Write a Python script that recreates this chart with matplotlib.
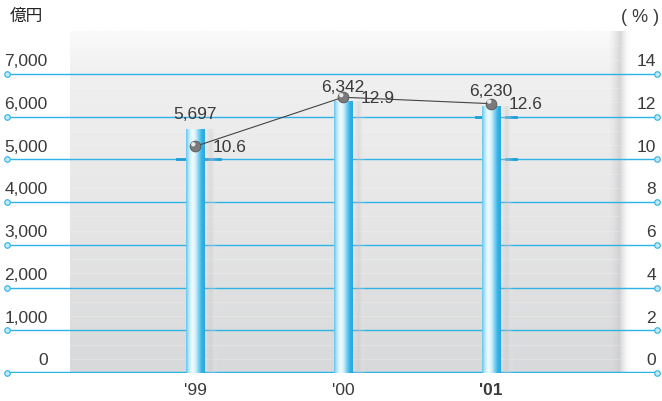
import numpy as np
import matplotlib
matplotlib.use('Agg')
import matplotlib.pyplot as plt
from matplotlib.colors import LinearSegmentedColormap

plt.rcParams['font.family'] = ['Liberation Sans', 'Noto Sans CJK JP', 'DejaVu Sans']

# sales (100M yen) and ratio (%)
years = ["'99", "'00", "'01"]
sales = [5697, 6342, 6230]
ratio = [10.6, 12.9, 12.6]
left_ticks = [0, 1000, 2000, 3000, 4000, 5000, 6000, 7000]
right_ticks = [0, 2, 4, 6, 8, 10, 12, 14]

grid_c = '#2db3e6'
txt_c = '#3a3a3a'

fig = plt.figure(figsize=(6.62, 4.01), dpi=100)
ax = fig.add_axes([5 / 662, 28 / 401, 654 / 662, 342 / 401])
ax.set_xlim(-1.284, 3.135)
ax.set_ylim(0, 8000)
ax.axis('off')
ax2 = ax.twinx()
ax2.set_ylim(0, 16)
ax2.axis('off')

xs = np.arange(len(years))

# gray panel with vertical gradient, fading out at the top
grad = np.linspace(0, 1, 256).reshape(-1, 1)
panel_cmap = LinearSegmentedColormap.from_list(
    'panel', [(0, '#d8d9da'), (0.5, '#e7e7e8'), (0.88, '#f0f0f0'), (1, '#fafafa')])
ax.imshow(grad, cmap=panel_cmap, origin='lower', aspect='auto',
          extent=(-0.845, 2.87, 0, 8000), zorder=0)
# shadow on right edge of panel
sh = np.linspace(0, 1, 64).reshape(1, -1)
shadow_cmap = LinearSegmentedColormap.from_list('sh', [(0.85, 0.85, 0.86, 0), (0.78, 0.78, 0.79, 0.7), (1, 1, 1, 0)])
ax.imshow(sh, cmap=shadow_cmap, aspect='auto', extent=(2.80, 2.95, 0, 8000), zorder=0.5)

# faint white lines inside panel
for yv in np.arange(0, 8000, 1000 / 3):
    ax.plot([-0.845, 2.87], [yv, yv], color='white', lw=0.6, alpha=0.25, zorder=0.6)

# gridlines with dotted ends
for t in left_ticks:
    lw = 2.5 if t == 0 else 1.0
    ax.plot([-1.284, 3.135], [t, t], color=grid_c, lw=lw, zorder=1, solid_capstyle='butt')
    ax.plot([-1.27, 3.121], [t, t], 'o', ms=4, mfc='#bfe8f8', mec=grid_c, mew=0.8, zorder=1.5,
            clip_on=False)
    ax.text(-0.995, t + 110, f'{t:,}', ha='right', va='bottom', fontsize=12.5, color=txt_c)
for t in right_ticks:
    ax2.text(3.115, t + 0.22, f'{t}', ha='right', va='bottom', fontsize=12.5, color=txt_c)

# short highlight marks near bars
ax.plot([-0.12, 0.17], [5000, 5000], color='#1a9fd8', lw=2, zorder=1.2)
ax.plot([1.90, 1.98], [6000, 6000], color='#1a9fd8', lw=2, zorder=1.2)
ax.plot([2.10, 2.17], [6000, 6000], color='#1a9fd8', lw=2, zorder=1.2)
ax.plot([2.10, 2.17], [5000, 5000], color='#1a9fd8', lw=2, zorder=1.2)

# cylinder bars
bw = 0.125
bar_cmap = LinearSegmentedColormap.from_list(
    'bar', ['#62c7ef', '#bfeafb', '#f4fcff', '#d6f2fc', '#7fd2f2', '#35b3e6', '#2aa8de'])
hgrad = np.linspace(0, 1, 128).reshape(1, -1)
bars = ax.bar(xs, sales, width=bw, color='none', zorder=2)
for b in bars:
    x0, w, h = b.get_x(), b.get_width(), b.get_height()
    # soft shadow to the right of each bar
    ax.imshow(sh, cmap=shadow_cmap, aspect='auto', extent=(x0 + w, x0 + w + 0.09, 0, h),
              zorder=1.8, alpha=0.6)
    ax.imshow(hgrad, cmap=bar_cmap, aspect='auto', extent=(x0, x0 + w, 0, h), zorder=2)

# ratio line with sphere markers
ax2.plot(xs, ratio, color='#444444', lw=0.8, zorder=3)
ax2.scatter(xs, ratio, s=60, c='#7a7a7a', edgecolors='#555555', linewidths=0.6, zorder=4)
ax2.scatter(xs - 0.012, np.array(ratio) + 0.1, s=10, c='#e8e8e8', edgecolors='none', zorder=5)

# value labels
for x, v in zip(xs, sales):
    ax.text(x, v + 170, f'{v:,}', ha='center', va='bottom', fontsize=12.5, color=txt_c, zorder=6)
for x, r in zip(xs, ratio):
    ax2.text(x + 0.12, r - 0.05, f'{r}', ha='left', va='center', fontsize=12.5, color=txt_c, zorder=6)

# category labels
for x, lab in zip(xs, years):
    ax.text(x, -230, lab, ha='center', va='top', fontsize=12.5, color=txt_c,
            fontweight='bold' if lab == "'01" else 'normal', clip_on=False)

fig.text(10 / 662, 1 - 16 / 401, '億円', ha='left', va='center', fontsize=12, color='#222222')
fig.text(640 / 662, 1 - 17 / 401, '( % )', ha='center', va='center', fontsize=13, color=txt_c)

plt.savefig('out.png', dpi=100)
